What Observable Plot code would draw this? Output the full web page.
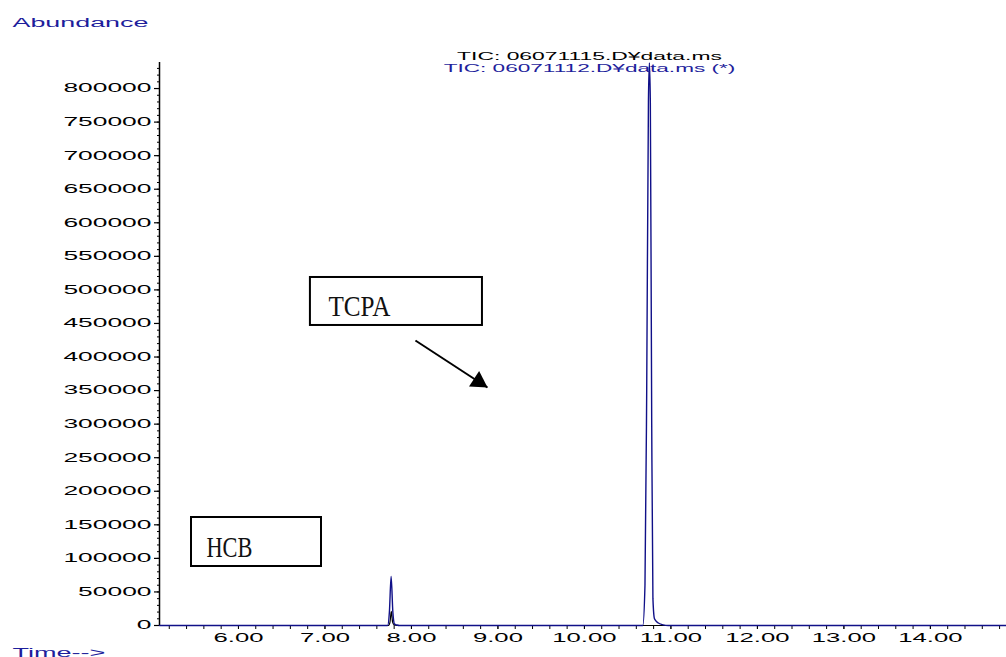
<!DOCTYPE html>
<html>
<head>
<meta charset="utf-8">
<script src="https://cdn.jsdelivr.net/npm/d3@7"></script>
<script src="https://cdn.jsdelivr.net/npm/@observablehq/plot@0.6"></script>
<style>
  html, body { margin: 0; padding: 0; background: white; overflow: hidden; }
  #chart svg { display: block; }
</style>
</head>
<body>
<div id="chart"></div>
<script>
// ---- data ----
const xDomain = [5.087, 14.88];          // retention time (min)
const yDomain = [0, 838800];             // abundance
const xTicks = [6, 7, 8, 9, 10, 11, 12, 13, 14];
const xMinorTicks = d3.range(26, 75).map(i => i / 5);
const yTicks = [0, 50000, 100000, 150000, 200000, 250000, 300000, 350000, 400000,
                450000, 500000, 550000, 600000, 650000, 700000, 750000, 800000];
const yMinorTicks = d3.range(0, 838800, 10000);

// TIC: 06071112.D¥data.ms (*)  (blue trace)
const blueTime  = [5.087, 7.725, 7.745, 7.765, 7.785, 7.805, 7.83, 7.86,
                   10.675, 10.70, 10.72, 10.74, 10.751, 10.762, 10.778, 10.792, 10.81, 10.85, 10.91, 10.97, 14.88];
const blueAbund = [0, 0, 20000, 73000, 20000, 2000, 800, 0,
                   0, 60000, 350000, 780000, 838000, 780000, 300000, 40000, 10000, 4000, 1000, 0, 0];

// TIC: 06071115.D¥data.ms  (black trace)
const blackTime  = [5.087, 7.735, 7.752, 7.767, 7.782, 7.80, 7.83, 14.88];
const blackAbund = [0, 0, 5000, 21000, 5000, 1000, 0, 0];

// annotation boxes
const boxLabels = ["TCPA", "HCB"];
const boxX1 = [6.832, 5.457];
const boxX2 = [8.821, 6.960];
const boxY1 = [447000, 87900];
const boxY2 = [518500, 160900];
const labelX = [7.040, 5.630];
const labelY = [474500, 116200];
const labelWidth = [62, 46];

// arrow (TCPA)
const arrowFrom = [8.046, 424600];
const arrowTo = [8.879, 354600];

const navy = "#101088";
const navyText = "#1e1e9c";

// ---- tables built from arrays ----
const blue = blueTime.map((t, i) => ({t, a: blueAbund[i]}));
const black = blackTime.map((t, i) => ({t, a: blackAbund[i]}));
const boxes = boxLabels.map((label, i) => ({
  label, x1: boxX1[i], x2: boxX2[i], y1: boxY1[i], y2: boxY2[i],
  tx: labelX[i], ty: labelY[i], w: labelWidth[i]
}));
const arrow = [{x1: arrowFrom[0], y1: arrowFrom[1], x2: arrowTo[0], y2: arrowTo[1]}];

const chart = Plot.plot({
  width: 1006,
  height: 657,
  marginLeft: 159,
  marginRight: 0,
  marginTop: 62,
  marginBottom: 32,
  x: {domain: xDomain},
  y: {domain: yDomain},
  style: {fontFamily: "'Liberation Sans', Arial, sans-serif", fontSize: "12px", color: "black", background: "white", overflow: "visible"},
  marks: [
    Plot.axisY(yMinorTicks, {tickSize: 2, text: null, label: null, strokeWidth: 1}),
    Plot.axisY(yTicks, {tickSize: 5, tickPadding: 3, tickFormat: d => String(d), label: null, strokeWidth: 1.2, fontSize: 12}),
    Plot.axisX(xMinorTicks, {tickSize: 4, text: null, label: null, strokeWidth: 1}),
    Plot.axisX(xTicks, {tickSize: 4, tickPadding: 4, tickFormat: d => d.toFixed(2), label: null, strokeWidth: 1, fontSize: 12}),
    Plot.ruleX([xDomain[0]], {stroke: "black", strokeWidth: 1.5}),
    Plot.line(black, {x: "t", y: "a", stroke: "black", strokeWidth: 1.2, curve: "monotone-x"}),
    Plot.line(blue, {x: "t", y: "a", stroke: navy, strokeWidth: 1.4, curve: "monotone-x"}),
    Plot.rect(boxes, {x1: "x1", x2: "x2", y1: "y1", y2: "y2", fill: "white", stroke: "black", strokeWidth: 2}),
    // text mark 0: box labels
    Plot.text(boxes, {x: "tx", y: "ty", text: "label", textAnchor: "start", lineAnchor: "middle",
      fontFamily: "'Liberation Serif', 'DejaVu Serif', serif", fontSize: 29, fill: "#111"}),
    Plot.link(arrow, {x1: "x1", y1: "y1", x2: "x2", y2: "y2", stroke: "black", strokeWidth: 2}),
    Plot.dot(arrow, {x: "x2", y: "y2", symbol: "triangle", r: 6.9, fill: "black", stroke: "none",
      rotate: 123, dx: -8.9, dy: -5.8}),
    // text mark 1: Abundance
    Plot.text(["Abundance"], {frameAnchor: "top-left", dx: -147, dy: -39.5, textAnchor: "start", lineAnchor: "middle",
      fill: navyText, fontSize: 12.5}),
    // text mark 2: Time-->
    Plot.text(["Time-->"], {frameAnchor: "bottom-left", dx: -147, dy: 27, textAnchor: "start", lineAnchor: "middle",
      fill: navyText, fontSize: 12.5}),
    // text mark 3: black TIC
    Plot.text(["TIC: 06071115.D¥data.ms"], {frameAnchor: "top", dx: 6.5, dy: -5.6, lineAnchor: "middle",
      fill: "black", fontSize: 11}),
    // text mark 4: blue TIC
    Plot.text(["TIC: 06071112.D¥data.ms (*)"], {frameAnchor: "top", dx: 6.5, dy: 6.2, lineAnchor: "middle",
      fill: navyText, fontSize: 11})
  ]
});

document.getElementById("chart").append(chart);

function scaleText(t, f) {
  const tr = t.getAttribute("transform") || "";
  t.setAttribute("transform", tr + ` scale(${f},1)`);
}
chart.querySelectorAll('g[aria-label="y-axis tick label"] text').forEach(t => scaleText(t, 2.2));
chart.querySelectorAll('g[aria-label="x-axis tick label"] text').forEach(t => scaleText(t, 2.14));

const textGroups = chart.querySelectorAll('g[aria-label="text"]');
// widths to fit, per text mark
const fitTargets = [null, [136], [93], [265], [292]];
textGroups.forEach((g, gi) => {
  g.querySelectorAll("text").forEach((t, i) => {
    const L = t.getComputedTextLength();
    if (!(L > 0)) return;
    const w = gi === 0 ? boxes[i].w : (fitTargets[gi] ? fitTargets[gi][0] : null);
    if (w) scaleText(t, w / L);
  });
});
</script>
</body>
</html>
